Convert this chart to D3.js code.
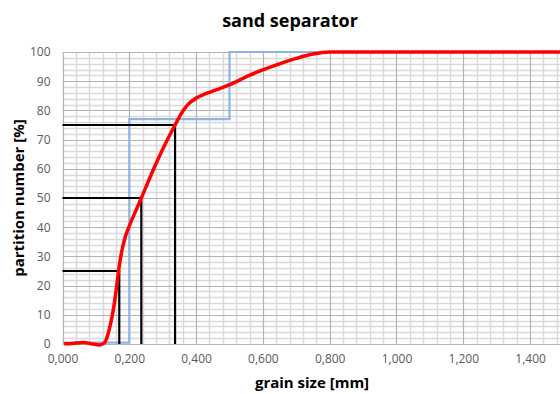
<!DOCTYPE html>
<html><head><meta charset="utf-8">
<script src="https://cdn.jsdelivr.net/npm/d3@7"></script>
<style>body{margin:0;background:#fff;overflow:hidden}svg{display:block}</style>
</head><body><svg id="c" width="560" height="394"></svg>
<script>
const title = "sand separator";
const xLabel = "grain size [mm]";
const yLabel = "partition number [%]";
const xTicks = [0, 0.2, 0.4, 0.6, 0.8, 1.0, 1.2, 1.4];
const yTicks = [0, 10, 20, 30, 40, 50, 60, 70, 80, 90, 100];
// red curve: partition number vs grain size
const curveX = [0.005, 0.03, 0.063, 0.09, 0.11, 0.125, 0.137, 0.145, 0.152, 0.162, 0.169, 0.177, 0.187, 0.202, 0.217, 0.236, 0.26, 0.287, 0.312, 0.337, 0.355, 0.375, 0.402, 0.43, 0.46, 0.501, 0.561, 0.641, 0.70, 0.75, 0.80, 0.90, 1.0, 1.2, 1.5];
const curveY = [0.1, 0.2, 0.5, 0.0, -0.3, 0.3, 3.7, 7.5, 11.6, 19.6, 26.0, 31.5, 36.3, 41.0, 45.0, 50.0, 56.5, 63.5, 69.5, 75.0, 78.8, 82.0, 84.3, 85.8, 87.0, 88.8, 92.1, 95.6, 97.8, 99.3, 100, 100, 100, 100, 100];
// blue step: class fractions
const stepX = [0, 0.2, 0.2, 0.5, 0.5, 0.8];
const stepY = [0.5, 0.5, 77, 77, 100, 100];
// characteristic diameters
const levels = [25, 50, 75];
const diameters = [0.170, 0.236, 0.337];

const svg = d3.select("#c");
const x = d3.scaleLinear().domain([0, 1.5]).range([62.5, 563.5]);
const y = d3.scaleLinear().domain([0, 100]).range([344, 52]);
const font = "'Open Sans', sans-serif";

// grid
const g = svg.append("g");
const minorX = d3.range(0, 1.5001, 0.04).filter(v => Math.abs(v / 0.2 - Math.round(v / 0.2)) > 1e-6);
const minorY = d3.range(0, 100.001, 2).filter(v => v % 10 !== 0);
g.selectAll(".mx").data(minorX).join("line")
  .attr("x1", d => Math.round(x(d)) + 0.5).attr("x2", d => Math.round(x(d)) + 0.5)
  .attr("y1", y(0)).attr("y2", y(100)).attr("stroke", "#d9d9d9").attr("stroke-width", 1.5);
g.selectAll(".my").data(minorY).join("line")
  .attr("y1", d => Math.round(y(d)) + 0.5).attr("y2", d => Math.round(y(d)) + 0.5)
  .attr("x1", x(0)).attr("x2", 560).attr("stroke", "#d9d9d9").attr("stroke-width", 1.5);
g.selectAll(".Mx").data(d3.range(0, 1.5001, 0.2)).join("line")
  .attr("x1", d => Math.round(x(d)) + 0.5).attr("x2", d => Math.round(x(d)) + 0.5)
  .attr("y1", y(0)).attr("y2", y(100)).attr("stroke", "#b3b3b3").attr("stroke-width", 1.2);
g.selectAll(".My").data(yTicks).join("line")
  .attr("y1", d => Math.round(y(d)) + 0.5).attr("y2", d => Math.round(y(d)) + 0.5)
  .attr("x1", x(0)).attr("x2", 560).attr("stroke", "#b3b3b3").attr("stroke-width", 1.2);

// axes
const xAxis = d3.axisBottom(x).tickValues(xTicks).tickSize(0).tickPadding(10)
  .tickFormat(d => d3.format(".3f")(d).replace(".", ","));
const xa = svg.append("g").attr("transform", `translate(0,${y(0)})`).call(xAxis);
xa.select(".domain").remove();
const yAxis = d3.axisLeft(y).tickValues(yTicks).tickSize(0).tickPadding(12);
const ya = svg.append("g").attr("transform", `translate(${x(0)},0)`).call(yAxis);
ya.select(".domain").remove();
svg.selectAll(".tick text").attr("font-family", font).attr("font-size", 12).attr("fill", "#595959");

// blue step
svg.append("path").datum(stepX.map((v, i) => [v, stepY[i]]))
  .attr("d", d3.line().x(d => x(d[0])).y(d => y(d[1])))
  .attr("fill", "none").attr("stroke", "#8db4e2").attr("stroke-width", 2.2);

// black characteristic lines
levels.forEach((lv, i) => {
  svg.append("path")
    .attr("d", d3.line()([[x(0), y(lv)], [x(diameters[i]), y(lv)], [x(diameters[i]), y(0)]]))
    .attr("fill", "none").attr("stroke", "#000").attr("stroke-width", 2.2);
});

// red curve
svg.append("path").datum(curveX.map((v, i) => [v, curveY[i]]))
  .attr("d", d3.line().x(d => x(d[0])).y(d => y(d[1])).curve(d3.curveMonotoneX))
  .attr("fill", "none").attr("stroke", "#ff0000").attr("stroke-width", 3.5).attr("stroke-linejoin", "round");

// titles
svg.append("text").attr("x", 290).attr("y", 27).attr("text-anchor", "middle")
  .attr("font-family", font).attr("font-weight", "bold").attr("font-size", 18).attr("fill", "#000").text(title);
svg.append("text").attr("x", 312).attr("y", 388).attr("text-anchor", "middle")
  .attr("font-family", font).attr("font-weight", "bold").attr("font-size", 15).attr("fill", "#000").text(xLabel);
svg.append("text").attr("transform", "translate(24,198) rotate(-90)").attr("text-anchor", "middle")
  .attr("font-family", font).attr("font-weight", "bold").attr("font-size", 15).attr("fill", "#000").text(yLabel);
</script></body></html>
